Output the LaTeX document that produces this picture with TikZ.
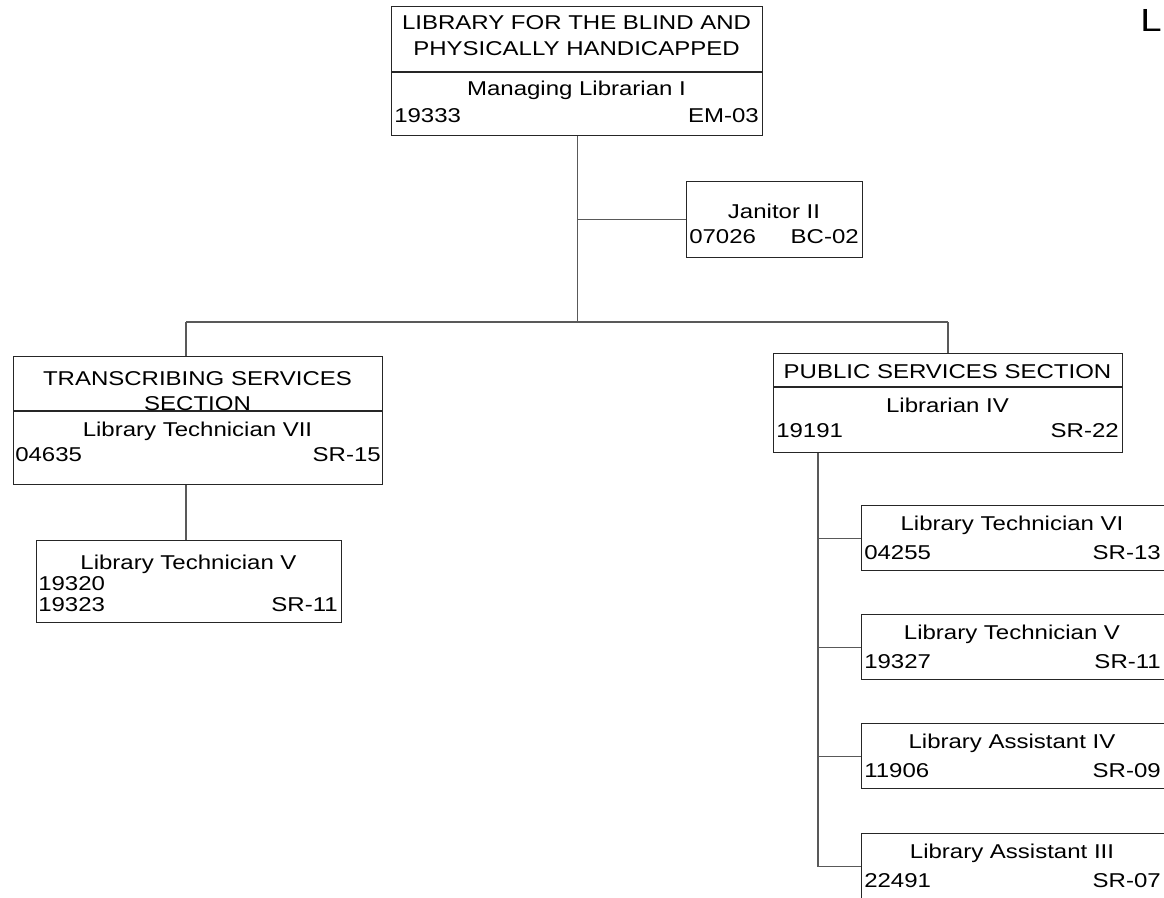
\documentclass[tikz,border=0pt]{standalone}
\usepackage{fontspec}
\setmainfont{Liberation Sans}[FakeStretch=1.2]
\def\pxu{0.75pt}
\tikzset{
  box/.style={draw=black!85, line width=1.1pt, anchor=north west, inner sep=0pt},
  rule/.style={draw=black!85, line width=1pt},
  link/.style={draw=black!65, line width=0.9pt},
  title/.style={inner sep=0pt, anchor=base},
  num/.style={inner sep=0pt, anchor=base west},
  grade/.style={inner sep=0pt, anchor=base east}
}
\begin{document}
\begin{tikzpicture}[x=\pxu, y=-\pxu, font=\fontsize{15}{18}\selectfont]
	\useasboundingbox (0,0) rectangle (1164,897);
	\clip (0,0) rectangle (1164,897);
	% head of the library
	\node (head) at (391,6) [box, minimum width=371*\pxu, minimum height=129*\pxu] {};
	\draw[rule] (head.north west) ++(0,66) -- ++(371,0);
	\node at (576.5,29) [title] {LIBRARY FOR THE BLIND AND};
	\node at (576.5,55) [title] {PHYSICALLY HANDICAPPED};
	\node at (576.5,95) [title] {Managing Librarian I};
	\node at (394,122) [num] {19333};
	\node at (759,122) [grade] {EM-03};
	\node at (1140,31) [num, font=\fontsize{24}{28}\selectfont] {L};
	% janitor
	\node (janitor) at (686,181) [box, minimum width=176*\pxu, minimum height=76*\pxu] {};
	\node at (774,218) [title] {Janitor II};
	\node at (689,243) [num] {07026};
	\node at (859,243) [grade] {BC-02};
	% transcribing services
	\node (trans) at (13,356) [box, minimum width=369*\pxu, minimum height=128*\pxu] {};
	\draw[rule] (trans.north west) ++(0,55) -- ++(369,0);
	\node at (197.5,385) [title] {TRANSCRIBING SERVICES};
	\node at (197.5,410) [title] {SECTION};
	\node at (197.5,436) [title] {Library Technician VII};
	\node at (15,461) [num] {04635};
	\node at (381,461) [grade] {SR-15};
	\node (tech5) at (36,540) [box, minimum width=305*\pxu, minimum height=82*\pxu] {};
	\node at (188.5,569) [title] {Library Technician V};
	\node at (38,590) [num] {19320};
	\node at (38,611) [num] {19323};
	\node at (338,611) [grade] {SR-11};
	% public services
	\node (public) at (773,353) [box, minimum width=349*\pxu, minimum height=99*\pxu] {};
	\draw[rule] (public.north west) ++(0,34) -- ++(349,0);
	\node at (947.5,378) [title] {PUBLIC SERVICES SECTION};
	\node at (947.5,412) [title] {Librarian IV};
	\node at (776,437) [num] {19191};
	\node at (1119,437) [grade] {SR-22};
	\node (sub1) at (861,505) [box, minimum width=305*\pxu, minimum height=65*\pxu] {};
	\node at (1012,530) [title] {Library Technician VI};
	\node at (864,559) [num] {04255};
	\node at (1161,559) [grade] {SR-13};
	\node (sub2) at (861,614) [box, minimum width=305*\pxu, minimum height=65*\pxu] {};
	\node at (1012,639) [title] {Library Technician V};
	\node at (864,668) [num] {19327};
	\node at (1161,668) [grade] {SR-11};
	\node (sub3) at (861,723) [box, minimum width=305*\pxu, minimum height=65*\pxu] {};
	\node at (1012,748) [title] {Library Assistant IV};
	\node at (864,777) [num] {11906};
	\node at (1161,777) [grade] {SR-09};
	\node (sub4) at (861,833) [box, minimum width=305*\pxu, minimum height=65*\pxu] {};
	\node at (1012,858) [title] {Library Assistant III};
	\node at (864,887) [num] {22491};
	\node at (1161,887) [grade] {SR-07};
	% connectors
	\coordinate (barL) at (186,322);
	\coordinate (barR) at (948,322);
	\coordinate (pubdrop) at (818,0);
	\draw[link] (head.south) -- (head.south |- barL);
	\draw[link] (head.south |- janitor.west) -- (janitor.west);
	\draw[link] (barL) -- (barR);
	\draw[link] (barL) -- (barL |- trans.north);
	\draw[link] (barR) -- (barR |- public.north);
	\draw[link] (barL |- trans.south) -- (barL |- tech5.north);
	\draw[link] (pubdrop |- public.south) |- (sub4.west);
	\draw[link] (pubdrop |- sub1.west) -- (sub1.west);
	\draw[link] (pubdrop |- sub2.west) -- (sub2.west);
	\draw[link] (pubdrop |- sub3.west) -- (sub3.west);
\end{tikzpicture}
\end{document}
